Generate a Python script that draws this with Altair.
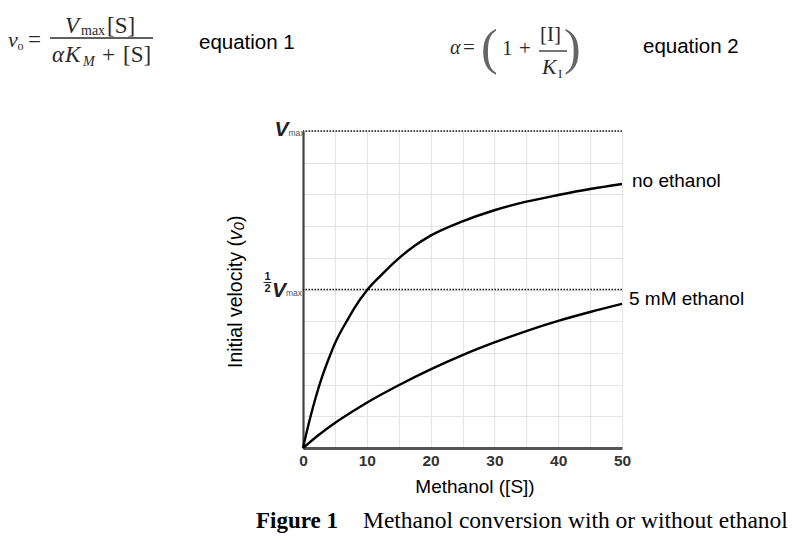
import altair as alt
import pandas as pd

# ---- data ----
S_no = [0, 1, 2, 3, 4, 5, 6, 7, 8, 10, 12.5, 15, 17.5, 20, 25, 30, 35, 40, 45, 50]
v_no = [0, 0.085, 0.16, 0.225, 0.28, 0.33, 0.37, 0.405, 0.44, 0.497, 0.55, 0.598, 0.638, 0.67,
        0.715, 0.75, 0.777, 0.798, 0.817, 0.833]
S_eth = [0, 2.5, 5, 7.5, 10, 15, 20, 25, 30, 35, 40, 45, 50]
v_eth = [0, 0.042, 0.079, 0.112, 0.143, 0.198, 0.248, 0.293, 0.333, 0.369, 0.401, 0.429, 0.455]
series_names = ["no ethanol", "5 mM ethanol"]
x_labels = [0, 10, 20, 30, 40, 50]
x_grid = list(range(0, 51, 5))
y_grid = [round(0.1 * i, 1) for i in range(11)]
ref_levels = [1.0, 0.5]

curves = pd.concat([
    pd.DataFrame({"S": S_no, "v": v_no, "series": series_names[0]}),
    pd.DataFrame({"S": S_eth, "v": v_eth, "series": series_names[1]}),
])

SANS = "Liberation Sans"
SERIF = "Liberation Serif"
EQC = "#2a2a2a"
OX, OY = 303, 131  # plot origin on the page

x_axis = alt.Axis(values=x_grid, labelExpr="datum.value % 10 === 0 ? datum.label : ''",
                  ticks=False, grid=True, gridColor="#e4e4e4", gridWidth=1.2,
                  domainColor="#555555", domainWidth=2.8, labelFont=SANS, labelFontSize=15.5,
                  labelFontWeight="bold", labelColor="#333333", labelPadding=5,
                  labelFlush=False, labelOverlap=False, title=None)
y_axis = alt.Axis(values=y_grid, labels=False, ticks=False, grid=True, gridColor="#e4e4e4",
                  gridWidth=1.2, domainColor="#444444", domainWidth=2.2, title=None)
x_enc = alt.X("S:Q", scale=alt.Scale(domain=[0, 50], nice=False), axis=x_axis)
y_enc = alt.Y("v:Q", scale=alt.Scale(domain=[0, 1], nice=False), axis=y_axis)

one = pd.DataFrame({"a": [0]})


def T(text, X, Y, size, font=SANS, style="normal", weight="normal", color="black",
      align="left", baseline="alphabetic", angle=0):
    kw = dict(text=text, font=font, fontSize=size, fontStyle=style, fontWeight=weight,
              color=color, align=align, baseline=baseline)
    if angle:
        kw["angle"] = angle
    return alt.Chart(one).mark_text(**kw).encode(x=alt.value(X - OX), y=alt.value(Y - OY))


def R(X1, X2, Y, w=1.3, color=EQC):
    return alt.Chart(one).mark_rule(color=color, strokeWidth=w).encode(
        x=alt.value(X1 - OX), x2=alt.value(X2 - OX), y=alt.value(Y - OY))


def YT(text, level, X, dy, size, style="normal", weight="normal", color="#222222",
       align="right", baseline="alphabetic"):
    return alt.Chart(pd.DataFrame({"v": [level]})).mark_text(
        text=text, font=SANS, fontSize=size, fontStyle=style, fontWeight=weight,
        color=color, align=align, baseline=baseline, dy=dy).encode(
        x=alt.value(X - OX), y=y_enc)


lines = alt.Chart(curves).mark_line(color="black", strokeWidth=2.4, interpolate="monotone").encode(
    x=x_enc, y=y_enc, detail="series:N")

refs = alt.Chart(pd.DataFrame({"v": ref_levels})).mark_rule(
    color="#111111", strokeWidth=1.5, strokeDash=[1.5, 1.5]).encode(y=y_enc)

end_no = pd.DataFrame({"S": [S_no[-1]], "v": [v_no[-1]], "lab": [series_names[0]]})
end_eth = pd.DataFrame({"S": [S_eth[-1]], "v": [v_eth[-1]], "lab": [series_names[1]]})
lab_no = alt.Chart(end_no).mark_text(align="left", baseline="middle", dx=10, dy=-2.5,
                                     font=SANS, fontSize=19, color="black").encode(
    x=x_enc, y=y_enc, text="lab:N")
lab_eth = alt.Chart(end_eth).mark_text(align="left", baseline="middle", dx=7, dy=-5,
                                       font=SANS, fontSize=19, color="black").encode(
    x=x_enc, y=y_enc, text="lab:N")

# y-axis custom labels
vmax_labels = [
    YT("V", 1.0, 288.5, 5, 21, style="italic", weight="bold"),
    YT("max", 1.0, 288.5, 5, 8.5, color="#555555", align="left"),
    YT("V", 0.5, 286, 7.5, 21, style="italic", weight="bold"),
    YT("max", 0.5, 286, 6.5, 8.5, color="#555555", align="left"),
    YT("1", 0.5, 267.5, -12.5, 11, weight="bold", align="center", baseline="middle"),
    YT("2", 0.5, 267.5, -0.5, 11, weight="bold", align="center", baseline="middle"),
    alt.Chart(pd.DataFrame({"v": [0.5]})).mark_rule(color="#222222", strokeWidth=1, yOffset=-7).encode(
        y=y_enc, x=alt.value(263.5 - OX), x2=alt.value(271.5 - OX)),
]

# y-axis title, rotated, pieces
fs = 19.5
ystart = 368
xb = 241.5
w1 = 6.557 * fs
ytitle = [
    T("Initial velocity (", xb, ystart, fs, angle=270),
    T("v", xb, ystart - w1, fs, style="italic", angle=270),
    T("0", xb + 2.5, ystart - w1 - 0.5 * fs, fs * 0.78, style="italic", angle=270),
    T(")", xb, ystart - w1 - 0.5 * fs - 0.556 * fs * 0.78, fs, angle=270),
]

xtitle = [T("Methanol ([S])", 475, 492.5, 19, align="center")]

eq1 = [
    T("v", 8, 47, 22, SERIF, style="italic", color=EQC),
    T("o", 17.5, 50, 12, SERIF, color=EQC),
    T("=", 28, 47, 23, SERIF, color=EQC),
    T("V", 65, 33, 23, SERIF, style="italic", color=EQC),
    T("max", 81, 35, 14, SERIF, color=EQC),
    T("[S]", 107, 33, 23, SERIF, color=EQC),
    R(50, 153, 38),
    T("\u03b1", 52, 62, 23, SERIF, style="italic", color=EQC),
    T("K", 65, 62, 23, SERIF, style="italic", color=EQC),
    T("M", 83, 66, 14, SERIF, style="italic", color=EQC),
    T("+", 102, 62, 23, SERIF, color=EQC),
    T("[S]", 123, 62, 23, SERIF, color=EQC),
    T("equation 1", 199, 49, 20.5),
]
eq2 = [
    T("\u03b1", 450, 54, 20, SERIF, style="italic", color=EQC),
    T("=", 463, 54, 21, SERIF, color=EQC),
    T("(", 481, 64, 50, SERIF, color="#666666"),
    T("1", 502, 55, 21, SERIF, color=EQC),
    T("+", 519, 55, 21, SERIF, color=EQC),
    T("[I]", 540, 41, 21, SERIF, color=EQC),
    R(539, 567, 51),
    T("K", 542, 74, 22, SERIF, style="italic", color=EQC),
    T("I", 558, 78, 13, SERIF, color=EQC),
    T(")", 564, 64, 50, SERIF, color="#666666"),
    T("equation 2", 643, 53, 20.5),
]
caption = [
    T("Figure 1", 256, 528, 23, SERIF, weight="bold"),
    T("Methanol conversion with or without ethanol", 363, 528, 23.5, SERIF),
]

chart = alt.layer(
    lines, refs, lab_no, lab_eth, *vmax_labels, *ytitle, *xtitle, *eq1, *eq2, *caption
).properties(
    width=319, height=317,
    autosize=alt.AutoSizeParams(type="none"),
    padding={"left": 295, "top": 123, "right": 167, "bottom": 85},
).configure_view(stroke=None)

chart.save("out.html", embed_options={"renderer": "svg", "actions": False})
